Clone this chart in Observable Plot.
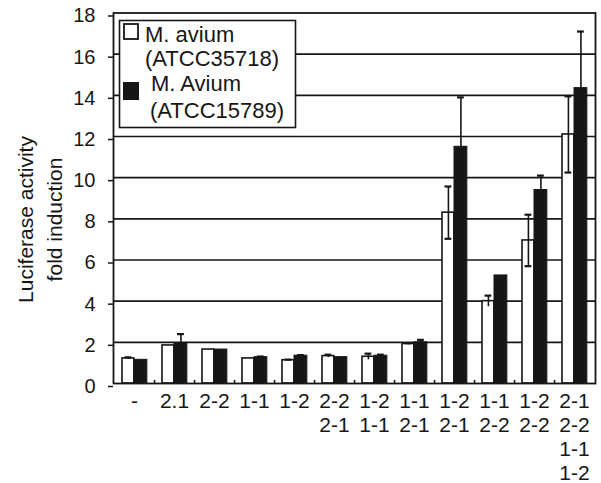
<!DOCTYPE html>
<html><head><meta charset="utf-8">
<script src="https://cdn.jsdelivr.net/npm/d3@7"></script>
<script src="https://cdn.jsdelivr.net/npm/@observablehq/plot@0.6"></script>
<style>
body{margin:0;background:#fff;}
#chart svg{font-family:"Liberation Sans",Arial,sans-serif;}
</style>
</head><body><div id="chart"></div>
<script>
const categories = ["-", "2.1", "2-2", "1-1", "1-2", "2-2\n2-1", "1-2\n1-1", "1-1\n2-1", "1-2\n2-1", "1-1\n2-2", "1-2\n2-2", "2-1\n2-2\n1-1\n1-2"];
const seriesNames = ["M. avium", "(ATCC35718)", "M. Avium", "(ATCC15789)"];
const avium35718 = [1.22, 1.85, 1.65, 1.22, 1.13, 1.33, 1.3, 1.92, 8.3, 4.0, 6.95, 12.1];
const avium35718Err = [0.05, 0, 0, 0, 0.03, 0.07, 0.15, 0.04, 1.27, 0.27, 1.25, 1.85];
const avium15789 = [1.15, 1.95, 1.65, 1.28, 1.35, 1.28, 1.35, 2.0, 11.5, 5.25, 9.4, 14.35];
const avium15789Err = [0, 0.45, 0, 0.03, 0.03, 0, 0.05, 0.12, 2.4, 0, 0.7, 2.75];
const yTicks = [0, 2, 4, 6, 8, 10, 12, 14, 16, 18];

const ink = "#161616";
const W = 601, H = 483;
const mL = 113, mR = 6, mT = 12.5, mB = 100;
const bw = (W - mL - mR) / categories.length;

const white = categories.map((c, i) => ({cat: c, v: avium35718[i], e: avium35718Err[i]}));
const black = categories.map((c, i) => ({cat: c, v: avium15789[i], e: avium15789Err[i]}));

const wL = 8, wW = 12, bL = 20, bW = 13;
const wOff = wL + wW / 2 - bw / 2;
const bOff = bL + bW / 2 - bw / 2;
const capW = 7;
const capInset = (bw - capW) / 2;

const chart = Plot.plot({
  width: W, height: H,
  marginLeft: mL, marginRight: mR, marginTop: mT, marginBottom: mB,
  style: {fontFamily: "Liberation Sans, Arial, sans-serif", fontSize: "20px", color: ink, background: "#fff"},
  x: {domain: categories, padding: 0, axis: null},
  y: {domain: [0, 18], axis: null},
  marks: [
    Plot.ruleY(yTicks.filter(t => t > 0 && t < 18), {stroke: ink, strokeWidth: 1.6}),
    Plot.barY(white, {x: "cat", y: "v", fill: "#fff", stroke: ink, strokeWidth: 1.6, insetLeft: wL, insetRight: bw - wL - wW}),
    Plot.barY(black, {x: "cat", y: "v", fill: ink, stroke: ink, strokeWidth: 1, insetLeft: bL, insetRight: bw - bL - bW}),
    Plot.ruleX(white.filter(d => d.e > 0), {x: "cat", y1: d => d.v - d.e, y2: d => d.v + d.e, dx: wOff, stroke: ink, strokeWidth: 1.6}),
    Plot.tickY(white.filter(d => d.e > 0), {x: "cat", y: d => d.v + d.e, dx: wOff, insetLeft: capInset, insetRight: capInset, stroke: ink, strokeWidth: 2.2}),
    Plot.tickY(white.filter(d => d.e > 0.5), {x: "cat", y: d => d.v - d.e, dx: wOff, insetLeft: capInset, insetRight: capInset, stroke: ink, strokeWidth: 2.2}),
    Plot.ruleX(black.filter(d => d.e > 0), {x: "cat", y1: "v", y2: d => d.v + d.e, dx: bOff, stroke: ink, strokeWidth: 1.6}),
    Plot.tickY(black.filter(d => d.e > 0), {x: "cat", y: d => d.v + d.e, dx: bOff, insetLeft: capInset, insetRight: capInset, stroke: ink, strokeWidth: 2.2}),
    Plot.ruleX(categories.slice(0, -1), {x: d => d, dx: bw / 2, y1: 0, y2: 0.15, stroke: ink, strokeWidth: 1.6}),
    Plot.frame({stroke: ink, strokeWidth: 1.8}),
    Plot.axisY({ticks: yTicks, tickSize: 5, tickPadding: 13, fontSize: 20, dy: 3, stroke: ink, strokeWidth: 1.5, label: null}),
    Plot.text(categories, {x: d => d, frameAnchor: "bottom", text: d => d, lineAnchor: "top", dy: 7, fontSize: 21, lineHeight: 1.15, fill: ink})
  ]
});
document.getElementById("chart").appendChild(chart);

const svg = d3.select(chart);
// y-axis title
const yt = svg.append("g").attr("fill", ink).attr("font-size", 21).attr("text-anchor", "middle");
yt.append("text").attr("transform", "translate(33,219.5) rotate(-90)").text("Luciferase activity");
yt.append("text").attr("transform", "translate(62,219.5) rotate(-90)").text("fold induction");

// legend
const lg = svg.append("g").attr("font-size", 22).attr("fill", ink).attr("text-anchor", "start");
lg.append("rect").attr("x", 119.5).attr("y", 20.5).attr("width", 176).attr("height", 107).attr("fill", "#fff").attr("stroke", ink).attr("stroke-width", 1.6);
lg.append("rect").attr("x", 124).attr("y", 24).attr("width", 14).attr("height", 15).attr("fill", "#fff").attr("stroke", ink).attr("stroke-width", 1.8);
lg.append("rect").attr("x", 123).attr("y", 82).attr("width", 16).attr("height", 18).attr("fill", ink);
lg.append("text").attr("x", 145).attr("y", 41.5).text(seriesNames[0]);
lg.append("text").attr("x", 145).attr("y", 65.5).text(seriesNames[1]);
lg.append("text").attr("x", 151).attr("y", 91).text(seriesNames[2]);
lg.append("text").attr("x", 150).attr("y", 118).text(seriesNames[3]);
</script>
</body></html>
